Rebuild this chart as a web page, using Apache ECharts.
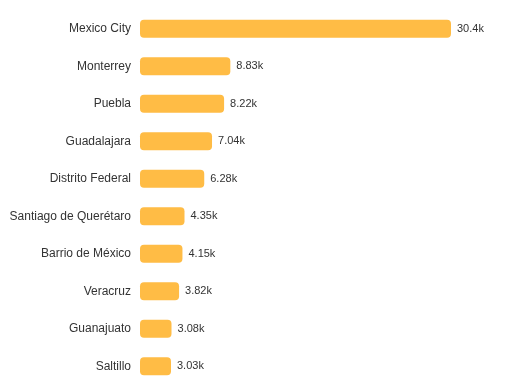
<!DOCTYPE html>
<html>
<head>
<meta charset="utf-8">
<script src="https://cdn.jsdelivr.net/npm/echarts@6/dist/echarts.min.js"></script>
<style>
html,body{margin:0;padding:0;background:#fff;}
#chart{width:509px;height:385px;}
</style>
</head>
<body>
<div id="chart"></div>
<script>
const categories = ["Mexico City","Monterrey","Puebla","Guadalajara","Distrito Federal","Santiago de Querétaro","Barrio de México","Veracruz","Guanajuato","Saltillo"];
const values = [30400, 8830, 8220, 7040, 6280, 4350, 4150, 3820, 3080, 3030];

const chart = echarts.init(document.getElementById('chart'), null, {renderer:'canvas'});
chart.setOption({
  animation: false,
  backgroundColor: '#ffffff',
  grid: { left: 140, right: 58, top: 10, height: 378.6, containLabel: false },
  xAxis: {
    type: 'value', min: 0, max: 'dataMax', show: false
  },
  yAxis: {
    type: 'category', data: categories, inverse: true,
    axisLine: { show: false }, axisTick: { show: false },
    axisLabel: { color: '#333333', fontSize: 12, fontFamily: 'Arial, "Liberation Sans", sans-serif', margin: 9 }
  },
  series: [{
    type: 'bar', data: values, barWidth: 18,
    itemStyle: { color: '#FFBC45', borderRadius: 4 },
    label: {
      show: true, position: 'right', distance: 6,
      color: '#333333', fontSize: 11, fontFamily: 'Arial, "Liberation Sans", sans-serif',
      formatter: p => (p.value / 1000).toPrecision(3) + 'k'
    }
  }]
});
</script>
</body>
</html>
